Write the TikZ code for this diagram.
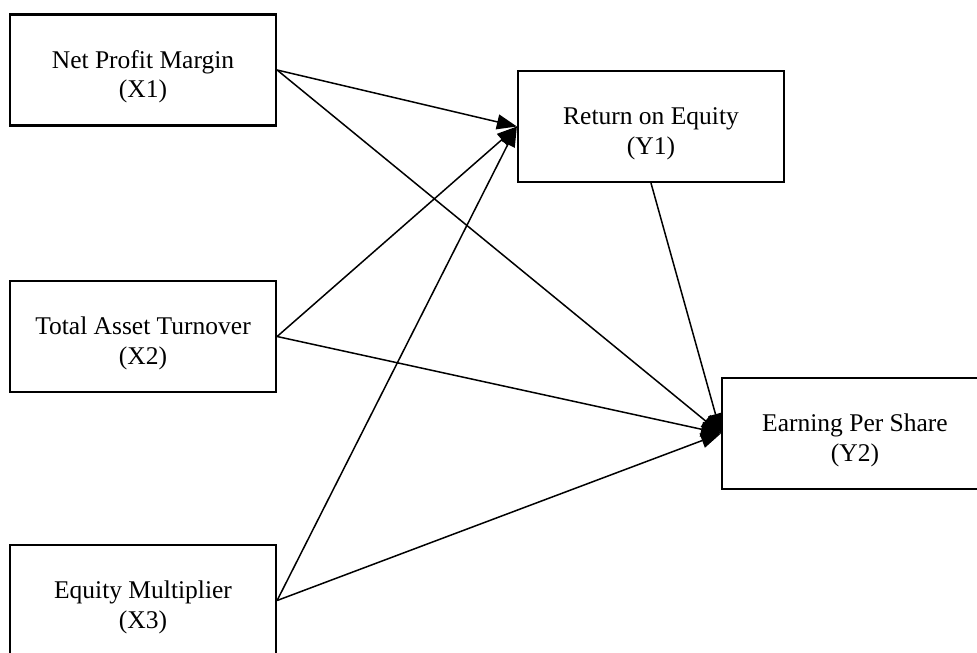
\documentclass[tikz,border=0pt]{standalone}
\usepackage{fontspec}
\setmainfont{Liberation Serif}
\usetikzlibrary{arrows.meta}
\newcommand{\toppad}{\rule{0pt}{31pt}}
\begin{document}
\begin{tikzpicture}[x=1pt,y=-1pt,
  varbox/.style={draw=black,line width=2.2pt,rectangle,minimum width=266pt,minimum height=111pt,
    align=center,font=\fontsize{25.5}{29.5}\selectfont,inner sep=0pt},
  path/.style={line width=1.5pt,-{Triangle[length=20pt,width=15pt]}}]
\useasboundingbox (0,0) rectangle (977,653);
\clip (0,0) rectangle (977,653);
\fill[white] (0,0) rectangle (977,653);
\node[varbox] (x1) at (143,70) {\toppad Net Profit Margin\\(X1)};
\node[varbox] (x2) at (143,336.5) {\toppad Total Asset Turnover\\(X2)};
\node[varbox] (x3) at (143,600.5) {\toppad Equity Multiplier\\(X3)};
\node[varbox] (y1) at (651,126.5) {\toppad Return on Equity\\(Y1)};
\node[varbox] (y2) at (855,433.5) {\toppad Earning Per Share\\(Y2)};
\draw[path] (x1.east) -- (y1.west);
\draw[path] (x2.east) -- (y1.west);
\draw[path] (x3.east) -- (y1.west);
\draw[path] (x1.east) -- (y2.west);
\draw[path] (x2.east) -- (y2.west);
\draw[path] (x3.east) -- (y2.west);
\draw[path] (y1.south) -- (y2.west);
\end{tikzpicture}
\end{document}
